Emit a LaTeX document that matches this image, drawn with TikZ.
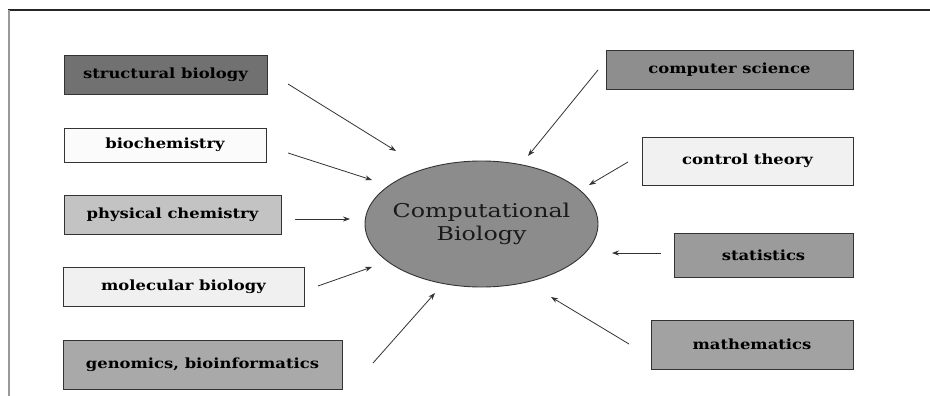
\documentclass[tikz,border=0pt]{standalone}
\usepackage{fontspec}
\setmainfont{DejaVu Serif}
\newfontfamily\boxfont[FakeStretch=1.17]{DejaVu Serif}
\newfontfamily\ellfont[FakeStretch=1.25]{DejaVu Serif}
\usetikzlibrary{arrows.meta}
\definecolor{cStruct}{HTML}{717171}
\definecolor{cBio}{HTML}{FBFBFB}
\definecolor{cPhys}{HTML}{C3C3C3}
\definecolor{cMol}{HTML}{F0F0F0}
\definecolor{cGen}{HTML}{A9A9A9}
\definecolor{cComp}{HTML}{8E8E8E}
\definecolor{cCtrl}{HTML}{F1F1F1}
\definecolor{cStat}{HTML}{9B9B9B}
\definecolor{cMath}{HTML}{A2A2A2}
\definecolor{cEll}{HTML}{8C8C8C}
\definecolor{cLine}{HTML}{333333}
\tikzset{
  box/.style={draw=cLine, line width=0.9pt, rectangle, inner sep=0pt,
    font=\boxfont\fontsize{14}{16}\selectfont\bfseries, text=black},
  arr/.style={draw=cLine, line width=0.8pt, -{Stealth[length=7pt,width=5pt]}},
}
\begin{document}
\begin{tikzpicture}[x=1pt,y=-1pt]
\useasboundingbox (0,0) rectangle (930,396);
\fill[white] (0,0) rectangle (930,396);
% frame
\draw[line width=1.6pt, black!85] (8,10) -- (930,10);
\draw[line width=1.8pt, black!40] (9,10) -- (9,396);
% left boxes
\node[box, fill=cStruct, minimum width=203pt, minimum height=39pt] (sb) at (165.5,74.5) {structural biology};
\node[box, fill=cBio, minimum width=202pt, minimum height=34pt] (bc) at (165,145) {biochemistry};
\node[box, fill=cPhys, minimum width=217pt, minimum height=39pt] (pc) at (172.5,214.5) {physical chemistry};
\node[box, fill=cMol, minimum width=241pt, minimum height=39pt] (mb) at (183.5,286.5) {molecular biology};
\node[box, fill=cGen, minimum width=279pt, minimum height=49pt] (gb) at (202.5,364.5) {genomics, bioinformatics};
% right boxes
\node[box, fill=cComp, minimum width=247pt, minimum height=39pt] (cs) at (729.5,69.5) {computer science};
\node[box, fill=cCtrl, minimum width=211pt, minimum height=48pt] (ct) at (747.5,161) {control theory};
\node[box, fill=cStat, minimum width=179pt, minimum height=44pt] (st) at (763.5,255) {statistics};
\node[box, fill=cMath, minimum width=202pt, minimum height=49pt] (ma) at (752,344.5) {mathematics};
% center ellipse
\draw[cLine, line width=0.9pt, fill=cEll] (481.5,224) ellipse [x radius=116.5pt, y radius=63pt];
\node[font=\ellfont\fontsize{19}{23}\selectfont, align=center, text=black!90] (cb) at (481.5,224) {Computational\\Biology};
% arrows
\coordinate (s1) at (288,84);  \coordinate (e1) at (396,151);
\coordinate (s2) at (288,153); \coordinate (e2) at (372,180);
\coordinate (s3) at (295,219); \coordinate (e3) at (350,219);
\coordinate (s4) at (318,286); \coordinate (e4) at (372,267);
\coordinate (s5) at (373,363); \coordinate (e5) at (435,293);
\coordinate (s6) at (598,70);  \coordinate (e6) at (528,156);
\coordinate (s7) at (628,162); \coordinate (e7) at (589,185);
\coordinate (s8) at (661,253); \coordinate (e8) at (612,253);
\coordinate (s9) at (629,344); \coordinate (e9) at (551,297);
\foreach \i in {1,...,9} {\draw[arr] (s\i) -- (e\i);}
\end{tikzpicture}
\end{document}
